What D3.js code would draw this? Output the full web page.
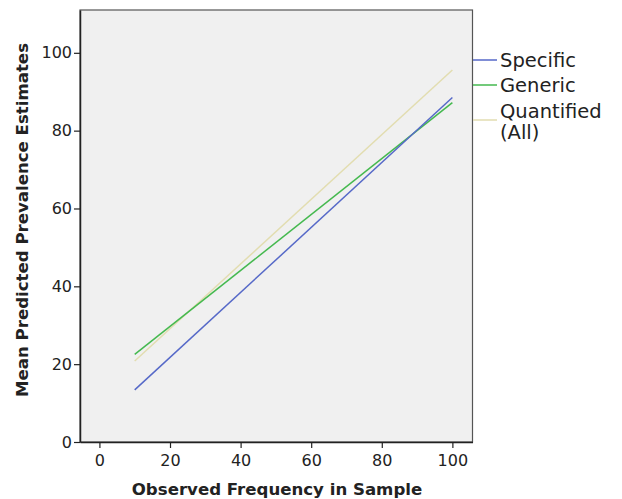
<!DOCTYPE html>
<html>
<head>
<meta charset="utf-8">
<script src="https://cdn.jsdelivr.net/npm/d3@7"></script>
<style>
  body { margin: 0; background: #fff; }
  text { font-family: "DejaVu Sans", sans-serif; fill: #222; }
</style>
</head>
<body>
<svg id="chart" width="622" height="499"></svg>
<script>
// values
var seriesNames = ["Specific", "Generic", "Quantified (All)"];
var seriesColors = ["#5669c8", "#45b94f", "#e2ddb0"];
var observedX = [10, 100];
var specific = [13.4, 88.5];
var generic = [22.5, 87.2];
var quantified = [20.8, 95.6];
var xTicks = [0, 20, 40, 60, 80, 100];
var yTicks = [0, 20, 40, 60, 80, 100];

var svg = d3.select("#chart"),
  margin = { top: 10, right: 150, bottom: 57, left: 80 },
  width = +svg.attr("width"),
  height = +svg.attr("height"),
  plotW = 472.5 - margin.left,
  plotH = height - margin.top - margin.bottom;

var x = d3.scaleLinear().domain([-5.5, 105.7]).range([0, plotW]);
var y = d3.scaleLinear().domain([0, 111]).range([plotH, 0]);

var g = svg.append("g")
  .attr("transform", "translate(" + margin.left + "," + margin.top + ")");

g.append("rect")
  .attr("width", plotW)
  .attr("height", plotH)
  .attr("fill", "#f0f0f0")
  .attr("stroke", "#555")
  .attr("stroke-width", 1.2);

var series = [specific, generic, quantified];
var line = d3.line()
  .x(function (d, i) { return x(observedX[i]); })
  .y(function (d) { return y(d); });

// draw quantified first so blue/green sit on top like the original
[2, 1, 0].forEach(function (k) {
  g.append("path")
    .datum(series[k])
    .attr("d", line)
    .attr("fill", "none")
    .attr("stroke", seriesColors[k])
    .attr("stroke-width", 1.5);
});

// axes
var xAxis = g.append("g")
  .attr("transform", "translate(0," + plotH + ")")
  .call(d3.axisBottom(x).tickValues(xTicks).tickSize(6).tickPadding(7).tickSizeOuter(0));
var yAxis = g.append("g")
  .call(d3.axisLeft(y).tickValues(yTicks).tickSize(6).tickPadding(2).tickSizeOuter(0));

[xAxis, yAxis].forEach(function (a) {
  a.select(".domain").attr("stroke", "#222").attr("stroke-width", 1.5);
  a.selectAll(".tick line").attr("stroke", "#222").attr("stroke-width", 1.2);
  a.selectAll(".tick text")
    .attr("font-family", "DejaVu Sans, sans-serif")
    .attr("font-size", 16)
    .attr("fill", "#222");
});

// axis titles
svg.append("text")
  .attr("text-anchor", "middle")
  .attr("transform", "translate(" + 277 + "," + 495 + ")")
  .attr("font-size", 16.6)
  .attr("font-weight", "bold")
  .text("Observed Frequency in Sample");

svg.append("text")
  .attr("text-anchor", "middle")
  .attr("transform", "translate(" + 28 + "," + 220 + ")rotate(-90)")
  .attr("font-size", 16.6)
  .attr("font-weight", "bold")
  .text("Mean Predicted Prevalence Estimates");

// legend
var legendY = [60, 85, 120];
var legend = svg.append("g");
seriesNames.forEach(function (name, k) {
  legend.append("line")
    .attr("x1", 473).attr("x2", 497)
    .attr("y1", legendY[k]).attr("y2", legendY[k])
    .attr("stroke", seriesColors[k])
    .attr("stroke-width", 1.5);
});
legend.append("text").attr("x", 500).attr("y", 67).attr("font-size", 19.5).text("Specific");
legend.append("text").attr("x", 500).attr("y", 92).attr("font-size", 19.5).text("Generic");
legend.append("text").attr("x", 500).attr("y", 118).attr("font-size", 19.5).text("Quantified");
legend.append("text").attr("x", 500).attr("y", 139).attr("font-size", 19.5).text("(All)");
</script>
</body>
</html>
